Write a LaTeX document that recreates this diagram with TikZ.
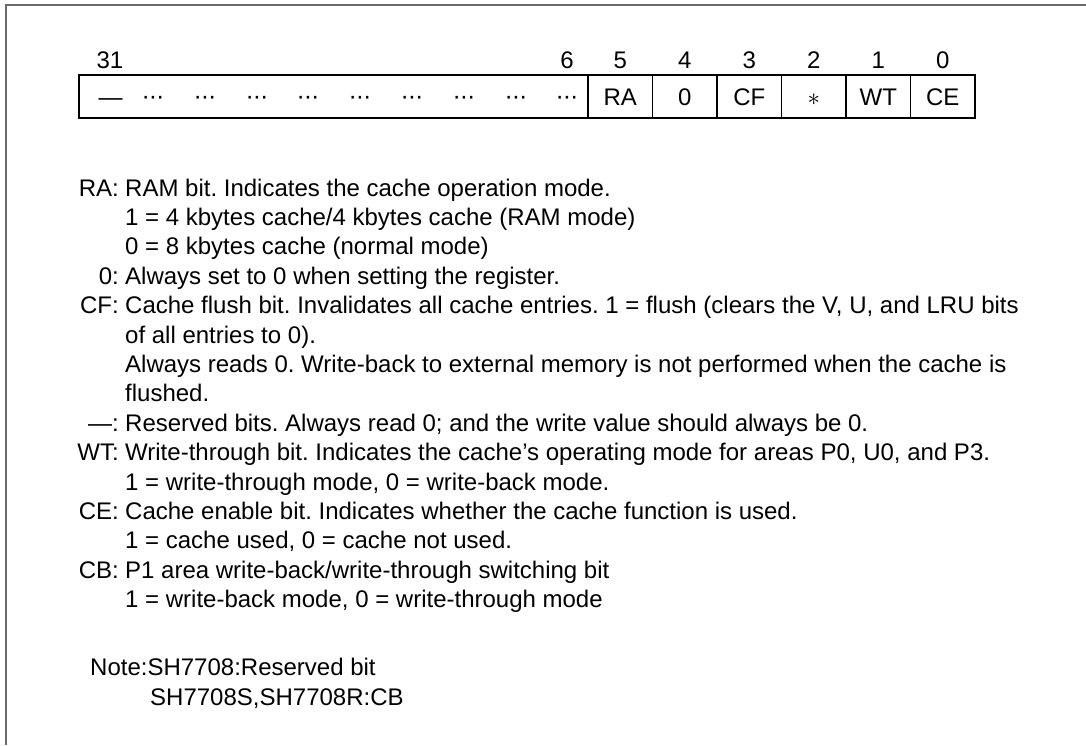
\documentclass[tikz,border=0pt]{standalone}
\usepackage{fontspec}
\setmainfont{Liberation Sans}
\definecolor{framegray}{HTML}{6B6B6B}
\begin{document}
\frenchspacing
\begin{tikzpicture}[x=1pt,y=-1pt,
  fnt/.style={font=\fontsize{24}{29}\selectfont},
  txt/.style={fnt, inner sep=0pt, anchor=base west},
  lab/.style={fnt, inner sep=0pt, anchor=base east},
  bitno/.style={fnt, inner sep=0pt, anchor=base},
  fieldbox/.style={draw=black, line width=1.2pt, minimum height=43pt, inner sep=0pt, outer sep=0pt, text height=17.2pt, text depth=0pt},
  cellbox/.style={fieldbox, fnt, minimum width=64.5pt},
  dashsym/.style={fnt, inner sep=0pt, anchor=base},
  dotsym/.style={font=\fontsize{25}{25}\selectfont, inner sep=0pt, anchor=base}
]
\useasboundingbox (0,0) rectangle (1086,745);
% frame
\draw[framegray, line width=1.3pt] (6,745) -- (6,5) -- (1086,5);

% register box
\node[fieldbox, minimum width=509pt] (fld) at (333.5,96.5) {};
\node[cellbox] (c5) at (620.25,96.5) {RA};
\node[cellbox] (c4) at (684.75,96.5) {0};
\node[cellbox] (c3) at (749.25,96.5) {CF};
\node[cellbox] (c2) at (813.75,96.5) {\fontsize{27}{27}\selectfont$\ast$};
\node[cellbox] (c1) at (878.25,96.5) {WT};
\node[cellbox] (c0) at (942.75,96.5) {CE};

% reserved field content
\node[dashsym] (dash) at (110.5,105) {\textemdash};
\node[dotsym] (dt1) at (153,104) {\kern-1pt·\kern-1pt·\kern-1pt·\kern-1pt};
\node[dotsym] (dt2) at (205,104) {\kern-1pt·\kern-1pt·\kern-1pt·\kern-1pt};
\node[dotsym] (dt3) at (257,104) {\kern-1pt·\kern-1pt·\kern-1pt·\kern-1pt};
\node[dotsym] (dt4) at (308,104) {\kern-1pt·\kern-1pt·\kern-1pt·\kern-1pt};
\node[dotsym] (dt5) at (360,104) {\kern-1pt·\kern-1pt·\kern-1pt·\kern-1pt};
\node[dotsym] (dt6) at (412,104) {\kern-1pt·\kern-1pt·\kern-1pt·\kern-1pt};
\node[dotsym] (dt7) at (464,104) {\kern-1pt·\kern-1pt·\kern-1pt·\kern-1pt};
\node[dotsym] (dt8) at (516,104) {\kern-1pt·\kern-1pt·\kern-1pt·\kern-1pt};
\node[dotsym] (dt9) at (567,104) {\kern-1pt·\kern-1pt·\kern-1pt·\kern-1pt};

% bit numbers
\node[bitno] (b31) at (110,68) {31};
\node[bitno] (b6) at (567,68) {6};
\node[bitno] (b5) at (620.25,68) {5};
\node[bitno] (b4) at (684.75,68) {4};
\node[bitno] (b3) at (749.25,68) {3};
\node[bitno] (b2) at (813.75,68) {2};
\node[bitno] (b1) at (878.25,68) {1};
\node[bitno] (b0) at (942.75,68) {0};

% description
\node[lab] (lRA) at (119,196) {RA:};
\node[txt] (t0) at (125,196) {RAM bit. Indicates the cache operation mode.};
\node[txt] (t1) at (125,225.4) {1 = 4 kbytes cache/4 kbytes cache (RAM mode)};
\node[txt] (t2) at (125,254.8) {0 = 8 kbytes cache (normal mode)};
\node[lab] (l0) at (119,284.2) {0:};
\node[txt] (t3) at (125,284.2) {Always set to 0 when setting the register.};
\node[lab] (lCF) at (119,313.6) {CF:};
\node[txt] (t4) at (125,313.6) {Cache flush bit. Invalidates all cache entries. 1 = flush (clears the V, U, and LRU bits};
\node[txt] (t5) at (125,343) {of all entries to 0).};
\node[txt] (t6) at (125,372.4) {Always reads 0. Write-back to external memory is not performed when the cache is};
\node[txt] (t7) at (125,401.8) {flushed.};
\node[lab] (lR) at (119,431.2) {\textemdash:};
\node[txt] (t8) at (125,431.2) {Reserved bits. Always read 0; and the write value should always be 0.};
\node[lab] (lWT) at (119,460.6) {WT:};
\node[txt] (t9) at (125,460.6) {Write-through bit. Indicates the cache’s operating mode for areas P0, U0, and P3.};
\node[txt] (t10) at (125,490) {1 = write-through mode, 0 = write-back mode.};
\node[lab] (lCE) at (119,519.4) {CE:};
\node[txt] (t11) at (125,519.4) {Cache enable bit. Indicates whether the cache function is used.};
\node[txt] (t12) at (125,548.8) {1 = cache used, 0 = cache not used.};
\node[lab] (lCB) at (119,578.2) {CB:};
\node[txt] (t13) at (125,578.2) {P1 area write-back/write-through switching bit};
\node[txt] (t14) at (125,607.6) {1 = write-back mode, 0 = write-through mode};

% note
\node[txt] (n1) at (90,675) {Note:SH7708:Reserved bit};
\node[txt] (n2) at (150,705) {SH7708S,SH7708R:CB};
\end{tikzpicture}
\end{document}
